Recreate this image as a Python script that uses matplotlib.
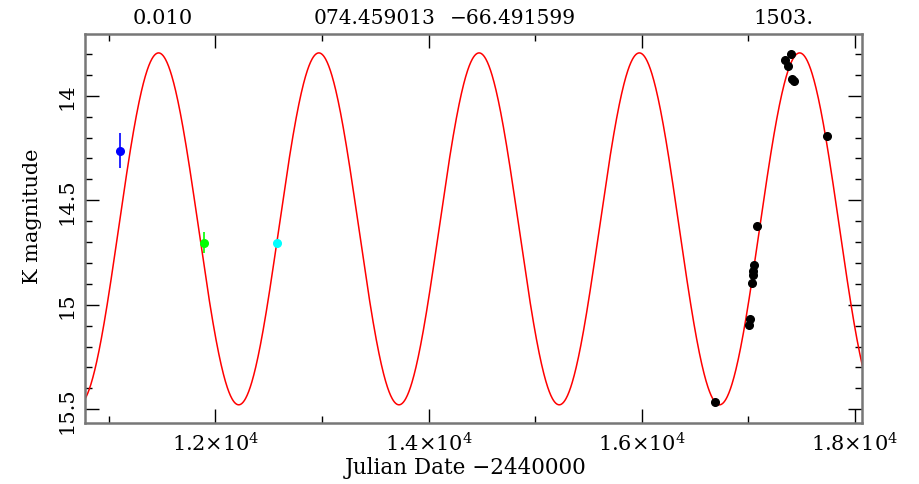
import numpy as np
import matplotlib.pyplot as plt
from matplotlib.ticker import MultipleLocator, FixedLocator, FixedFormatter

plt.rcParams["font.family"] = ["DejaVu Serif"]
plt.rcParams["mathtext.fontset"] = "dejavuserif"

# fitted light curve parameters
period = 1503.0
mean_mag = 14.637
amp = 0.842
t_peak = 17480.0

# observations (JD - 2440000, K mag, error)
blue_t, blue_k, blue_e = [11106], [14.263], [0.085]
green_t, green_k, green_e = [11894], [14.703], [0.05]
cyan_t, cyan_k = [12579], [14.703]
black_t = [16687, 17009, 17015, 17034, 17041, 17041, 17056, 17081,
           17343, 17372, 17403, 17409, 17428, 17737]
black_k = [15.466, 15.099, 15.070, 14.896, 14.860, 14.841, 14.812, 14.623,
           13.831, 13.860, 13.802, 13.919, 13.930, 14.195]

xmin, xmax = 10778, 18068
ymin, ymax = 13.706, 15.566

fig = plt.figure(figsize=(9.19, 4.85), dpi=100)
ax = fig.add_axes([0.0925, 0.1258, 0.8458, 0.8014])

t = np.linspace(xmin, xmax, 2000)
model = mean_mag - amp * np.cos(2 * np.pi * (t - t_peak) / period)
ax.plot(t, model, color="red", lw=1.1)

ax.errorbar(blue_t, blue_k, yerr=blue_e, fmt="o", color="blue", ms=5.5, elinewidth=1.2, capsize=0)
ax.errorbar(green_t, green_k, yerr=green_e, fmt="o", color="#00ff00", ms=5.5, elinewidth=1.2, capsize=0)
ax.plot(cyan_t, cyan_k, "o", color="cyan", ms=5.5)
ax.plot(black_t, black_k, "o", color="black", ms=5.5)

ax.set_xlim(xmin, xmax)
ax.set_ylim(ymax, ymin)

ax.xaxis.set_major_locator(FixedLocator([12000, 14000, 16000, 18000]))
ax.xaxis.set_major_formatter(FixedFormatter([r"1.2$\times$10$^4$", r"1.4$\times$10$^4$",
                                             r"1.6$\times$10$^4$", r"1.8$\times$10$^4$"]))
ax.xaxis.set_minor_locator(MultipleLocator(1000))
ax.yaxis.set_major_locator(FixedLocator([14, 14.5, 15, 15.5]))
ax.yaxis.set_major_formatter(FixedFormatter(["14", "14.5", "15", "15.5"]))
ax.yaxis.set_minor_locator(MultipleLocator(0.1))

ax.tick_params(which="both", direction="in", top=True, right=True, color="black", labelsize=15)
ax.tick_params(which="major", length=10, width=1)
ax.tick_params(which="minor", length=5, width=1)
ax.tick_params(axis="x", pad=6)
ax.tick_params(axis="y", labelrotation=90, pad=6)
for lab in ax.get_yticklabels():
    lab.set_va("center")
for s in ax.spines.values():
    s.set_color("#777777")
    s.set_linewidth(1.8)

ax.set_xlabel("Julian Date \u22122440000", fontsize=15.5)
ax.set_ylabel("K magnitude", fontsize=15)
ax.xaxis.set_label_coords(0.49, -0.085)
ax.yaxis.set_label_coords(-0.055, 0.535)

top_y = 1 - 19 / 485
fig.text(163 / 919, top_y, "0.010", ha="center", va="center", fontsize=15)
fig.text(375 / 919, top_y, "074.459013", ha="center", va="center", fontsize=14.5)
fig.text(513 / 919, top_y, "\u221266.491599", ha="center", va="center", fontsize=14.5)
fig.text(784 / 919, top_y, "1503.", ha="center", va="center", fontsize=15)

fig.savefig("out.png", dpi=100)
